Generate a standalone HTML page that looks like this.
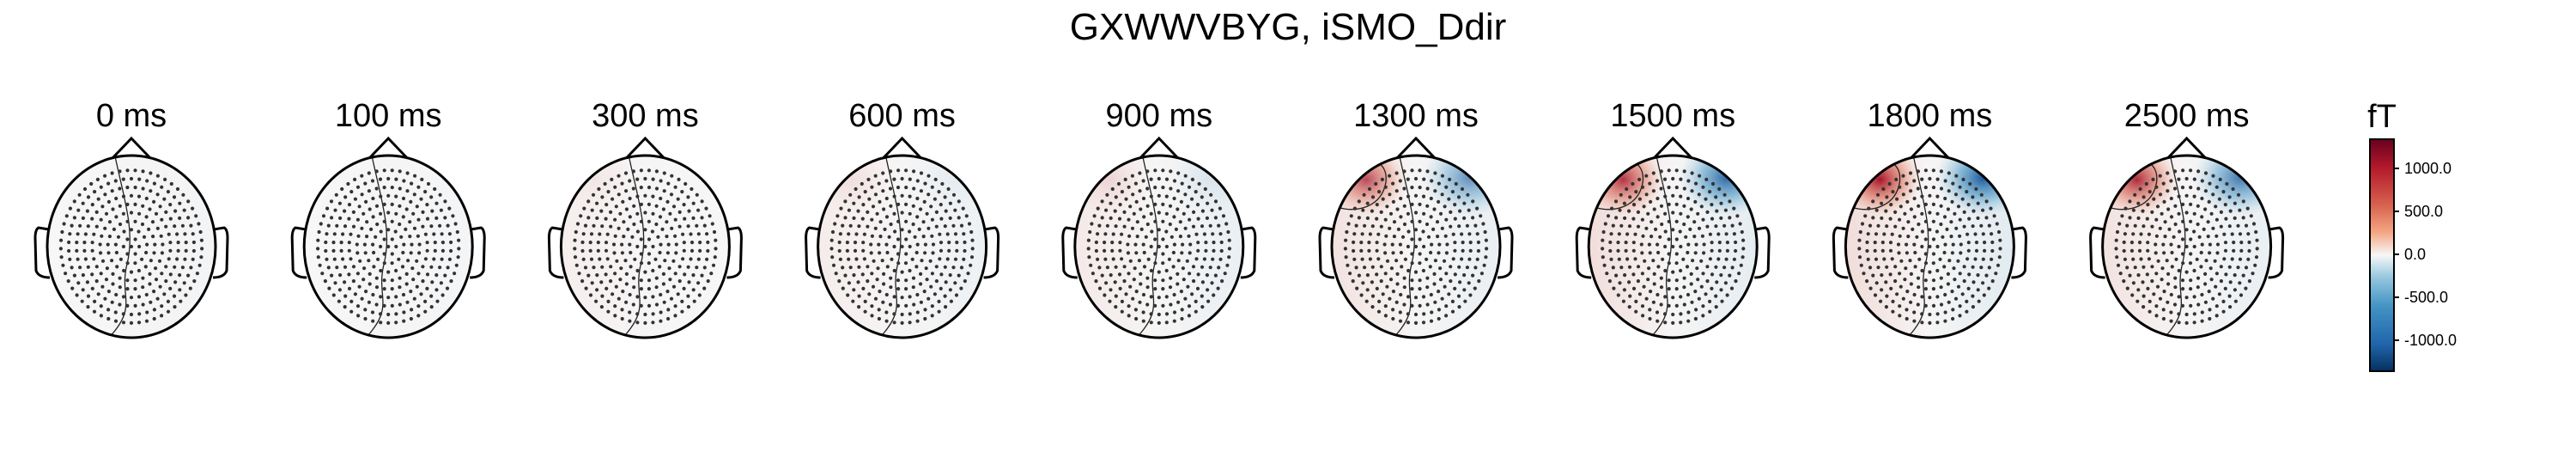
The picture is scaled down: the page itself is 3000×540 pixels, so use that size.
<!DOCTYPE html>
<html><head><meta charset="utf-8">
<style>
html,body{margin:0;padding:0;background:#fff;}
svg{display:block;font-family:"Liberation Sans",Arial,sans-serif;}
</style></head>
<body>
<svg id="fig" width="3000" height="540" viewBox="0 0 3000 540" xmlns="http://www.w3.org/2000/svg">
<defs id="defs">
<linearGradient id="cbar" x1="0" y1="0" x2="0" y2="1">
<stop offset="0" stop-color="#67001f"/>
<stop offset="0.12" stop-color="#b2182b"/>
<stop offset="0.28" stop-color="#d6604d"/>
<stop offset="0.4" stop-color="#f4a582"/>
<stop offset="0.5" stop-color="#f7f7f7"/>
<stop offset="0.6" stop-color="#92c5de"/>
<stop offset="0.72" stop-color="#4393c3"/>
<stop offset="0.88" stop-color="#2166ac"/>
<stop offset="1" stop-color="#053061"/>
</linearGradient>
</defs>
<text x="1500" y="46" font-size="44" text-anchor="middle">GXWWVBYG, iSMO_Ddir</text>
<g id="heads"></g>
<g id="colorbar">
<text x="2774" y="148" font-size="38" text-anchor="middle">fT</text>
<rect x="2760" y="162" width="28" height="270" fill="url(#cbar)" stroke="#000" stroke-width="2"/>
<g id="cticks"></g>
</g>
</svg>
<script>
const times = ["0 ms","100 ms","300 ms","600 ms","900 ms","1300 ms","1500 ms","1800 ms","2500 ms"];
const redAmp = [0,0,0.05,0.08,0.12,0.75,0.85,1.0,0.9];
const blueAmp = [0,0,0,0.05,0.1,0.65,0.9,1.0,0.8];
const leftTint = [0,0,0.06,0.07,0.09,0.14,0.17,0.18,0.14];
const rightTint = [0.03,0.02,0.0,0.06,0.08,0.08,0.1,0.12,0.08];
const cbTicks = [1000,500,0,-500,-1000];
const cbLabels = ["1000.0","500.0","0.0","-500.0","-1000.0"];

const NS="http://www.w3.org/2000/svg";
function mk(t,a,p){const e=document.createElementNS(NS,t);for(const k in a)e.setAttribute(k,a[k]);p.appendChild(e);return e;}
const defs=document.getElementById('defs'), heads=document.getElementById('heads');
const x0=153, dx=299.2, cy=287, rx=98, ry=106;
function mix(a,b,t){return Math.round(a+(b-a)*t);}
function red(t){return `rgb(${mix(247,214,t)},${mix(247,96,t)},${mix(247,77,t)})`;}
function blue(t){return `rgb(${mix(247,67,t)},${mix(247,147,t)},${mix(247,195,t)})`;}
const dots=[];
for(let i=1;i<=9;i++){const n=Math.round(6.3*i);for(let j=0;j<n;j++){const a=(j+0.5*(i%2))/n*2*Math.PI;const rr=i/10.2;dots.push([Math.sin(a)*rr,-Math.cos(a)*rr]);}}
dots.push([0,0]);
times.forEach((lab,i)=>{
  const cx=x0+dx*i;
  const g=mk('g',{transform:`translate(${cx},${cy})`},heads);
  
  
  const t=mk('text',{x:0,y:-140,'font-size':38,'text-anchor':'middle'},g);t.textContent=lab;
  
  
  const lg=mk('linearGradient',{id:'lg'+i,x1:0,y1:0,x2:1,y2:0},defs);
  mk('stop',{offset:0,'stop-color':red(leftTint[i])},lg);
  mk('stop',{offset:0.5,'stop-color':'#f6f5f5'},lg);
  mk('stop',{offset:1,'stop-color':blue(rightTint[i])},lg);
  const rg=mk('radialGradient',{id:'rg'+i},defs);
  mk('stop',{offset:0,'stop-color':'#a5142a','stop-opacity':redAmp[i]},rg);
  mk('stop',{offset:0.5,'stop-color':'#d6604d','stop-opacity':redAmp[i]*0.6},rg);
  mk('stop',{offset:1,'stop-color':'#f4a582','stop-opacity':0},rg);
  const bg=mk('radialGradient',{id:'bg'+i},defs);
  mk('stop',{offset:0,'stop-color':'#1d5a9a','stop-opacity':blueAmp[i]},bg);
  mk('stop',{offset:0.5,'stop-color':'#4393c3','stop-opacity':blueAmp[i]*0.6},bg);
  mk('stop',{offset:1,'stop-color':'#92c5de','stop-opacity':0},bg);
  const cp=mk('clipPath',{id:'cp'+i},defs);mk('ellipse',{cx:0,cy:0,rx:rx,ry:ry},cp);
  const inner=mk('g',{'clip-path':`url(#cp${i})`},g);
  mk('rect',{x:-rx,y:-ry,width:2*rx,height:2*ry,fill:`url(#lg${i})`},inner);
  mk('ellipse',{cx:-58,cy:-78,rx:48,ry:42,fill:`url(#rg${i})`},inner);
  mk('ellipse',{cx:62,cy:-80,rx:55,ry:45,fill:`url(#bg${i})`},inner);
  mk('path',{d:'M-20,-110 C-10,-60 5,-20 -5,20 C-15,60 10,70 -30,110',fill:'none',stroke:'#222','stroke-width':1.3},inner);
  if(redAmp[i]>0.5) mk('path',{d:'M-88,-45 C-70,-40 -40,-45 -35,-75 C-32,-100 -55,-105 -70,-98',fill:'none',stroke:'#222','stroke-width':1.3},inner);
  dots.forEach(d=>mk('circle',{cx:(d[0]*rx*0.95).toFixed(1),cy:(d[1]*ry*0.95).toFixed(1),r:2.1,fill:'#333'},inner));
  mk('ellipse',{cx:0,cy:0,rx:rx,ry:ry,fill:'none',stroke:'#000','stroke-width':3},g);
  mk('path',{d:`M-22,${-ry+3} L0,${-ry-20} L22,${-ry+3}`,fill:'none',stroke:'#000','stroke-width':3},g);
  mk('path',{d:`M${-rx+2},-20 L${-rx-10},-22 Q${-rx-14},-20 ${-rx-14},-10 L${-rx-13},28 Q${-rx-10},36 ${-rx+3},36`,fill:'none',stroke:'#000','stroke-width':3},g);
  mk('path',{d:`M${rx-2},-20 L${rx+10},-22 Q${rx+14},-20 ${rx+14},-10 L${rx+13},28 Q${rx+10},36 ${rx-3},36`,fill:'none',stroke:'#000','stroke-width':3},g);
});
const ct=document.getElementById('cticks');
const vTop=1340, vBot=-1360, yTop=162, yBot=432;
function ys(v){return yTop+(vTop-v)/(vTop-vBot)*(yBot-yTop);}
cbTicks.forEach((v,k)=>{
  const y=ys(v);
  const l=mk('line',{x1:2788,x2:2794,y1:y,y2:y,stroke:'#000','stroke-width':2},ct);
  
  
  const tx=mk('text',{x:2800,y:y+6,'font-size':18},ct);tx.textContent=cbLabels[k];
  
  
});
</script>
</body></html>
